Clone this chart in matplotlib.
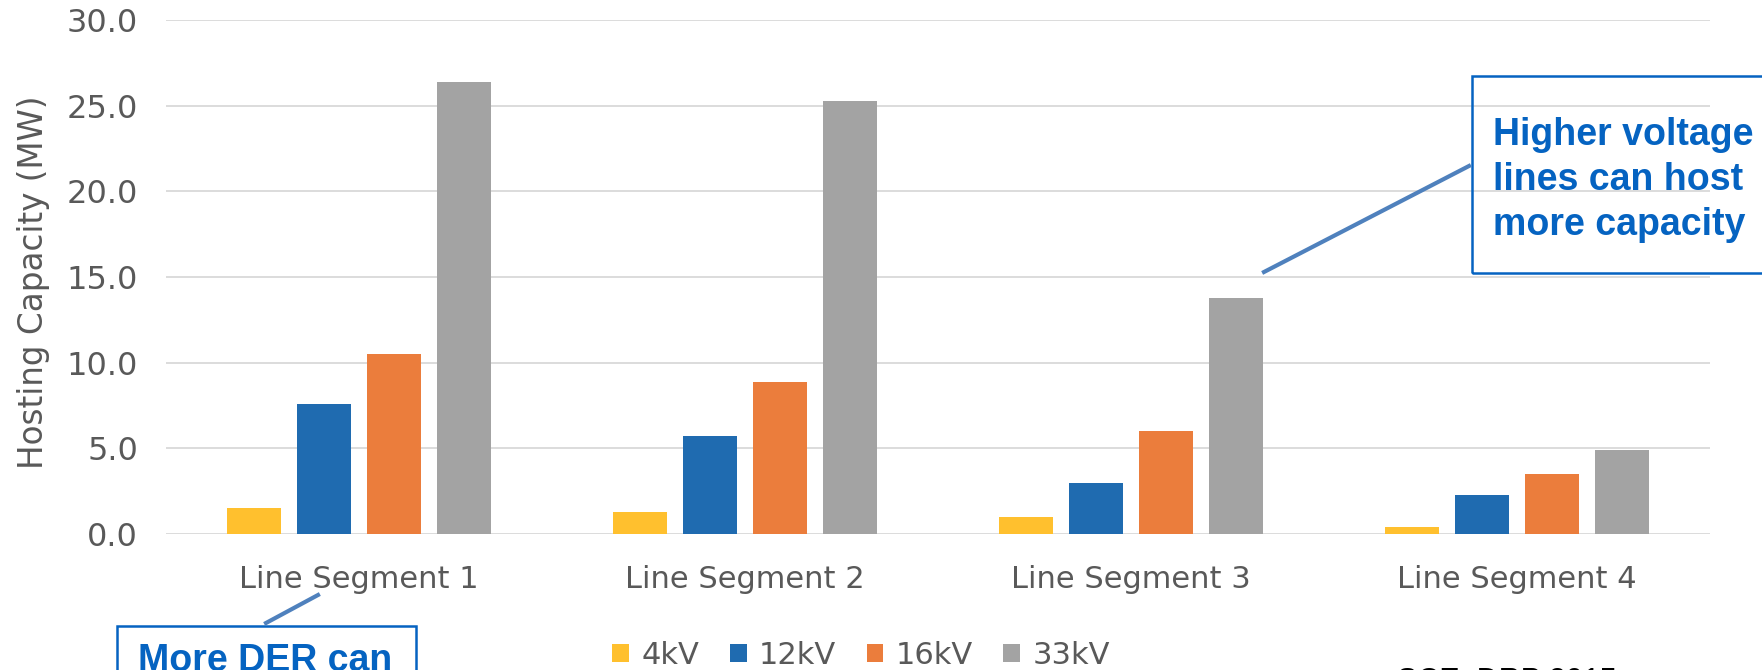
import matplotlib
matplotlib.use("Agg")
import matplotlib.pyplot as plt
from matplotlib.patches import Rectangle, Patch
from matplotlib.lines import Line2D
import numpy as np

# data
segments = ["Line Segment 1", "Line Segment 2", "Line Segment 3", "Line Segment 4"]
voltages = ["4kV", "12kV", "16kV", "33kV"]
cap_4kv = [1.5, 1.3, 1.0, 0.4]
cap_12kv = [7.6, 5.7, 3.0, 2.3]
cap_16kv = [10.5, 8.9, 6.0, 3.5]
cap_33kv = [26.4, 25.3, 13.8, 4.9]
yticks = [0, 5, 10, 15, 20, 25, 30]

colors = ["#FFC02E", "#1F6BB0", "#EB7D3C", "#A3A3A3"]
txt_gray = "#595959"
blue_txt = "#0563C1"
line_blue = "#4F81BD"

W, H = 1762, 670
fig = plt.figure(figsize=(W / 100, H / 100), dpi=100)
ax = fig.add_axes([166 / W, 1 - 534 / H, (1710 - 166) / W, (534 - 20) / H])

x = np.arange(len(segments))
step = 0.182
width = 0.14
series = [cap_4kv, cap_12kv, cap_16kv, cap_33kv]
for i, (vals, c, lab) in enumerate(zip(series, colors, voltages)):
    ax.bar(x + (i - 1.5) * step, vals, width, color=c, label=lab, zorder=3)

ax.set_xlim(-0.5, 3.5)
ax.set_ylim(0, 30)
ax.set_yticks(yticks)
ax.set_yticklabels([f"{v:.1f}" for v in yticks])
ax.set_xticks(x)
ax.set_xticklabels(segments)
ax.yaxis.grid(True, color="#D9D9D9", linewidth=1.3, zorder=0)
ax.set_axisbelow(True)
for s in ax.spines.values():
    s.set_visible(False)
ax.tick_params(axis="both", length=0, colors=txt_gray)
ax.tick_params(axis="y", pad=20, labelsize=23)
ax.tick_params(axis="x", pad=22, labelsize=22)
ax.set_ylabel("Hosting Capacity (MW)", fontsize=23.5, color=txt_gray, va="center")
ax.yaxis.set_label_coords(-0.0855, 0.49)

handles = [Patch(facecolor=c, label=l) for c, l in zip(colors, voltages)]
fig.legend(handles=handles, loc="center", bbox_to_anchor=(0.4887, 0.022), ncol=4,
           frameon=False, handlelength=0.55, handleheight=0.55, handletextpad=0.4,
           columnspacing=1.0, prop={"size": 22}, labelcolor=txt_gray)

# callout boxes
fig.add_artist(Rectangle((1472 / W, 1 - 273 / H), 400 / W, 197 / H, transform=fig.transFigure,
                         fill=False, edgecolor=blue_txt, linewidth=1.8, clip_on=False))
fig.text(1493 / W, 1 - 117 / H, "Higher voltage\nlines can host\nmore capacity",
         fontsize=27, fontweight="bold", color=blue_txt, va="top", ha="left",
         family="Liberation Sans", linespacing=1.33)
fig.add_artist(Line2D([1469 / W, 1264 / W], [1 - 166 / H, 1 - 272 / H],
                      transform=fig.transFigure, color=line_blue, linewidth=3))

fig.add_artist(Rectangle((117 / W, -0.2), (416 - 117) / W, 0.2 + (670 - 626) / H,
                         transform=fig.transFigure, fill=False, edgecolor=blue_txt,
                         linewidth=1.8, clip_on=False))
fig.text(138 / W, 1 - 643 / H, "More DER can", fontsize=27, fontweight="bold",
         color=blue_txt, va="top", ha="left", family="Liberation Sans")
fig.add_artist(Line2D([318 / W, 266 / W], [1 - 595 / H, 1 - 623 / H],
                      transform=fig.transFigure, color=line_blue, linewidth=3))

fig.text(1397 / W, 1 - 667 / H, "SCE, DRP 2015", fontsize=22, color="black",
         va="top", ha="left", family="Liberation Sans")

fig.savefig("out.png", dpi=100)
